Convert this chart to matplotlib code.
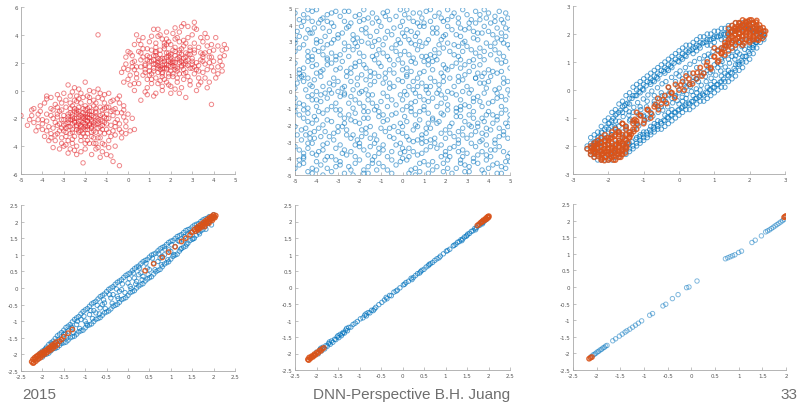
import numpy as np
import matplotlib
matplotlib.use("Agg")
import matplotlib.pyplot as plt

# ---------------- data ----------------
# Panel 1: two red clusters (values in tenths)
red_low = np.array([
(-20,-21),(-22,-18),(-18,-24),(-25,-20),(-15,-19),(-21,-27),(-28,-23),(-17,-15),(-23,-12),(-12,-22),
(-30,-18),(-19,-31),(-26,-28),(-14,-27),(-24,-16),(-10,-17),(-33,-25),(-16,-11),(-21,-5),(-27,-9),
(-35,-14),(-8,-25),(-13,-34),(-29,-33),(-38,-22),(-20,-38),(-11,-9),(-32,-6),(-6,-13),(-40,-28),
(-24,-40),(-15,-42),(-9,-36),(-42,-17),(-25,2),(-18,0),(-31,-38),(-5,-21),(-44,-23),(-36,-31),
(-22,-33),(-26,-24),(-19,-17),(-17,-26),(-23,-22),(-14,-20),(-27,-16),(-12,-14),(-31,-21),(-20,-14),
(-16,-23),(-24,-26),(-28,-19),(-13,-26),(-21,-23),(-18,-20),(-25,-13),(-10,-24),(-29,-27),(-15,-30),
(-22,-9),(-33,-17),(-7,-18),(-19,-36),(-34,-10),(-26,-35),(-11,-31),(-37,-26),(-3,-16),(-14,-5),
(-28,4),(-20,6),(-16,-1),(-30,-2),(-8,-8),(-4,-28),(-1,-22),(-2,-11),(-6,-32),(-12,-44),
(-17,-46),(-22,-44),(-27,-42),(-34,-36),(-39,-33),(-45,-18),(-47,-25),(-50,-18),(-41,-11),(-38,-6),
(-36,-5),(-33,-3),(-24,-4),(-9,-2),(-5,-6),(-1,-26),(2,-20),(-3,-34),(-9,-41),(-13,-48),
(-8,-47),(-10,-46),(-7,-51),(-21,-52),(-4,-54),(-26,-38),(-30,-29),(-35,-20),(-19,-26),(-23,-30),
(-17,-33),(-11,-19),(-13,-12),(-24,-20),(-20,-28),(-26,-17),(-15,-15),(-22,-25),(-18,-12),(-29,-12),
(-32,-24),(-9,-30),(-6,-23),(-27,-31),(-36,-18),(-31,-14),(-12,-38),(-16,-7),(-25,-7),(-19,-4),
(-40,-21),(-43,-29),(-37,-36),(-41,-15),(-23,1),(-14,1),(-11,-3),(-2,-19),(1,-29),(3,-28),
(-4,-9),(-6,-40),(-15,-38),(-29,-39),(-32,-42),(-20,-42),(-24,-46),(-35,-41),(-28,-45),(-38,-4),
(-44,-13),(-46,-21),(-30,-25),(-21,-19),(-17,-18),(-25,-23),(-19,-22),(-23,-15),(-14,-24),(-27,-21),
(-16,-29),(-12,-28),(-20,-17),(-28,-26),(-22,-29),(-18,-8),(-10,-12),(-7,-14),(-33,-31),(-31,-34),
(-21,-20),(-19,-22),(-23,-19),(-17,-21),(-25,-22),(-20,-24),(-18,-17),(-22,-26),(-26,-19),(-16,-25),
(-24,-14),(-13,-18),(-27,-26),(-20,-11),(-11,-23),(-30,-21),(-15,-13),(-23,-29),(-9,-20),(-32,-15),
(-17,-30),(-26,-11),(-12,-17),(-29,-30),(-20,-33),(-8,-15),(-34,-23),(-14,-34),(-24,-8),(-6,-26),
(-36,-13),(-18,-38),(-27,-4),(-10,-28),(-38,-29),(-22,-36),(-12,-6),(-31,-9),(-5,-16),(-40,-24),
(-19,-19),(-22,-22),(-24,-25),(-16,-19),(-20,-26),(-26,-21),(-18,-15),(-21,-13),(-14,-22),(-28,-17),
(-23,-24),(-17,-27),(-25,-15),(-12,-25),(-29,-24),(-19,-28),(-15,-16),(-27,-13),(-11,-13),(-31,-27),
(-21,-31),(-13,-30),(-33,-19),(-16,-34),(-25,-33),(-9,-12),(-35,-27),(-8,-33),(-28,-36),(-18,-5),
(-22,-2),(-26,-1),(-33,-12),(-38,-17),(-42,-21),(-4,-24),(-2,-14),(-7,-7),(-14,-41),(-25,-43),
(-30,-40),(-36,-34),(-42,-26),(-45,-14),(-39,-9),(-15,-9),(-13,-2),(0,-17),(-3,-30),(-11,-39),
(-17,-22),(-23,-17),(-20,-19),(-18,-25),(-24,-28),(-15,-24),(-28,-21),(-21,-16),(-13,-21),(-26,-30),
(-19,-13),(-10,-20),(-32,-29),(-16,-38),(-23,-6),(-29,-7),(-7,-29),(-1,-31),(-34,-32),(-4,-4)]) / 10.0

red_high = np.array([
(18,19),(15,22),(22,17),(12,16),(25,21),(19,25),(14,13),(28,18),(10,21),(21,29),
(16,10),(30,23),(8,15),(24,12),(13,27),(27,27),(20,14),(33,18),(6,22),(17,32),
(11,8),(35,24),(23,6),(4,17),(29,31),(9,30),(31,12),(37,15),(2,25),(19,35),
(26,36),(14,39),(38,28),(1,11),(5,5),(16,3),(33,4),(40,21),(42,17),(-1,19),
(3,33),(7,38),(12,44),(24,42),(30,40),(35,35),(44,29),(41,9),(39,-10),(27,-5),
(20,-2),(12,-4),(6,-7),(-2,6),(-3,13),(0,28),(4,40),(10,35),(22,45),(31,49),
(26,48),(36,41),(45,33),(43,24),(38,6),(32,0),(25,2),(18,6),(9,2),(3,0),
(-14,40),(21,21),(17,16),(24,24),(13,19),(19,12),(26,15),(15,26),(22,25),(11,12),
(28,22),(16,18),(20,20),(23,14),(14,23),(27,19),(18,27),(12,22),(25,17),(10,17),
(29,26),(21,10),(17,30),(32,20),(8,19),(24,29),(15,7),(34,27),(19,4),(7,11),
(36,19),(13,34),(28,10),(5,28),(31,34),(23,38),(9,25),(39,24),(2,20),(16,37),
(33,14),(26,32),(11,29),(37,32),(4,9),(20,33),(30,16),(14,5),(22,1),(40,14),
(42,32),(0,15),(-1,24),(6,33),(18,42),(28,46),(34,38),(44,18),(36,9),(29,4),
(13,-2),(8,-1),(1,4),(23,9),(17,23),(21,18),(19,21),(25,26),(15,15),(27,13),
(12,25),(24,20),(16,13),(20,24),(18,16),(22,28),(14,20),(26,23),(10,14),(30,19),
(13,31),(35,21),(9,8),(31,27),(7,24),(38,20),(3,15),(46,30),(41,38),(32,44),
(19,18),(17,21),(21,20),(15,17),(23,23),(18,15),(14,21),(25,18),(20,26),(12,19),
(27,24),(16,12),(22,31),(10,24),(29,16),(13,9),(31,29),(8,18),(26,8),(18,33),
(34,22),(6,27),(24,35),(11,5),(36,27),(3,21),(28,38),(15,40),(39,17),(20,3),
(17,19),(20,17),(16,23),(22,20),(14,16),(24,22),(19,27),(12,14),(26,19),(21,12),
(15,29),(28,26),(10,11),(23,16),(30,21),(13,25),(25,30),(17,8),(32,15),(9,22),
(18,37),(27,34),(7,30),(33,31),(35,13),(4,12),(29,7),(21,41),(38,24),(2,17),
(40,29),(1,27),(14,44),(25,46),(37,38),(43,21),(42,12),(34,6),(24,-2),(9,-3),
(0,8),(-2,16),(5,36),(11,39),(31,45),(39,33),(45,25),(44,14),(37,2),(16,0),
(20,22),(18,24),(16,16),(22,15),(24,27),(14,18),(19,10),(27,21),(11,21),(29,29),
(13,28),(31,17),(8,13),(26,12),(17,34),(35,26),(6,17),(22,37),(33,9),(3,5)]) / 10.0

# Panel 2: uniform blue points on [-5,5]^2 (tenths)
uniform_pts = np.array([
(-48,43),(-44,49),(-39,41),(-35,46),(-31,48),(-27,42),(-22,45),(-18,49),(-14,41),(-9,47),(-6,43),(-1,49),(3,44),(7,41),(11,48),(15,45),(19,42),(24,47),(28,49),(32,43),(36,46),(41,41),(45,48),(49,44),(-46,46),(-37,44),(-25,48),(-12,44),(0,42),(13,42),(26,44),(38,49),(47,41),(-42,42),(-20,42),(5,47),(21,49),(34,41),(43,45),(-33,41),
(-49,36),(-45,32),(-41,38),(-36,33),(-32,39),(-28,35),(-23,31),(-19,37),(-15,33),(-10,39),(-5,34),(-2,31),(2,37),(6,33),(10,39),(14,35),(18,31),(23,37),(27,33),(31,38),(35,31),(40,36),(44,32),(48,38),(-47,39),(-38,30),(-26,38),(-13,30),(-7,36),(8,30),(16,38),(29,30),(37,35),(46,35),(-43,35),(-30,32),(-17,35),(0,35),(20,34),(33,36),
(-50,24),(-46,28),(-42,21),(-37,26),(-33,29),(-29,22),(-25,27),(-20,23),(-16,29),(-11,25),(-7,21),(-3,28),(1,24),(5,20),(9,27),(13,22),(17,28),(22,24),(26,21),(30,27),(34,23),(39,29),(43,25),(47,21),(-44,24),(-35,20),(-22,29),(-9,28),(4,29),(15,25),(28,24),(41,22),(49,28),(-40,29),(-27,25),(-14,21),(-1,22),(11,21),(24,28),(36,26),
(-48,13),(-44,18),(-40,11),(-35,16),(-31,19),(-26,12),(-22,17),(-17,14),(-13,19),(-8,11),(-4,16),(0,13),(4,18),(8,11),(12,16),(16,19),(21,13),(25,17),(29,10),(33,15),(38,19),(42,12),(46,17),(50,14),(-46,10),(-37,13),(-28,18),(-19,10),(-10,15),(2,10),(14,13),(27,14),(35,11),(44,19),(-42,15),(-24,14),(-6,19),(10,18),(19,16),(31,18),
(-49,5),(-45,1),(-41,7),(-37,3),(-32,8),(-28,2),(-24,6),(-19,0),(-15,4),(-11,9),(-6,2),(-2,7),(3,3),(7,8),(11,1),(15,6),(19,9),(24,3),(28,7),(32,1),(36,5),(41,9),(45,2),(49,6),(-47,9),(-34,5),(-21,8),(-9,5),(1,0),(13,3),(26,9),(39,2),(47,8),(-43,4),(-30,0),(-17,7),(5,6),(17,1),(22,8),(34,8),
(-50,-4),(-46,-8),(-42,-2),(-38,-6),(-33,-9),(-29,-3),(-25,-7),(-20,-1),(-16,-5),(-12,-9),(-7,-3),(-3,-8),(2,-2),(6,-6),(10,-9),(14,-4),(18,-7),(23,-1),(27,-5),(31,-9),(35,-3),(40,-7),(44,-1),(48,-5),(-44,-10),(-36,-1),(-23,-10),(-10,-6),(0,-5),(12,-1),(25,-10),(37,-9),(46,-3),(-40,-5),(-27,-1),(-14,-2),(4,-10),(16,-1),(21,-8),(33,-6),
(-48,-14),(-44,-18),(-39,-12),(-35,-17),(-31,-11),(-27,-19),(-22,-13),(-18,-16),(-13,-11),(-9,-18),(-5,-14),(-1,-19),(4,-12),(8,-17),(12,-13),(16,-19),(21,-11),(25,-15),(29,-18),(33,-12),(37,-16),(42,-19),(46,-13),(50,-17),(-46,-11),(-37,-20),(-24,-17),(-11,-15),(1,-15),(14,-16),(27,-11),(39,-14),(48,-19),(-41,-15),(-29,-14),(-16,-12),(6,-20),(19,-14),(31,-20),(44,-15),
(-49,-26),(-45,-22),(-41,-28),(-36,-24),(-32,-29),(-28,-21),(-23,-26),(-19,-23),(-15,-28),(-10,-22),(-6,-27),(-2,-24),(3,-29),(7,-21),(11,-25),(15,-28),(20,-23),(24,-27),(28,-22),(32,-26),(37,-29),(41,-23),(45,-27),(49,-21),(-47,-29),(-38,-27),(-26,-23),(-12,-29),(0,-21),(13,-22),(26,-29),(35,-21),(47,-24),(-43,-25),(-30,-24),(-17,-25),(-4,-21),(9,-28),(22,-25),(39,-26),
(-50,-33),(-46,-37),(-42,-31),(-37,-35),(-33,-39),(-29,-32),(-24,-36),(-20,-31),(-16,-38),(-11,-34),(-7,-39),(-3,-32),(1,-36),(5,-30),(9,-37),(13,-33),(18,-39),(22,-34),(26,-31),(30,-37),(34,-33),(39,-38),(43,-31),(47,-36),(-44,-34),(-35,-31),(-22,-39),(-9,-35),(3,-39),(16,-34),(28,-35),(41,-35),(49,-39),(-40,-38),(-27,-35),(-13,-31),(-1,-37),(11,-30),(20,-36),(36,-30),
(-48,-44),(-44,-48),(-40,-42),(-35,-46),(-31,-41),(-27,-49),(-22,-43),(-18,-47),(-14,-41),(-9,-45),(-5,-49),(-1,-42),(4,-47),(8,-43),(12,-49),(16,-45),(21,-41),(25,-46),(29,-48),(33,-42),(37,-47),(42,-44),(46,-49),(50,-42),(-46,-40),(-37,-50),(-25,-45),(-12,-47),(0,-40),(14,-42),(27,-43),(39,-41),(48,-46),(-42,-46),(-29,-44),(-16,-49),(6,-50),(19,-48),(31,-45),(44,-43),
(-50,47),(-46,42),(-42,48),(-38,43),(-33,47),(-29,45),(-24,41),(-20,46),(-16,44),(-11,42),(-7,48),(-3,45),(1,46),(5,42),(9,44),(13,49),(17,47),(21,43),(26,41),(30,46),(34,48),(39,44),(43,42),(48,47),(-44,44),(-35,42),(-27,48),(-18,43),(-8,45),(2,49),(10,41),(18,44),(31,41),(40,47),(46,43),(-40,49),(-14,47),(8,47),(23,45),(36,43),
(-48,33),(-44,37),(-40,31),(-34,36),(-30,34),(-25,39),(-21,32),(-17,38),(-12,36),(-8,32),(-4,38),(1,33),(4,36),(8,39),(12,31),(16,35),(21,39),(25,34),(29,37),(33,32),(38,39),(42,34),(46,31),(50,37),(-50,31),(-42,35),(-32,31),(-23,34),(-11,31),(-1,39),(7,35),(19,33),(27,38),(35,35),(44,38),(-37,38),(-19,30),(3,31),(14,38),(48,33),
(-48,26),(-44,21),(-39,24),(-35,28),(-31,21),(-27,29),(-23,25),(-18,21),(-14,27),(-9,23),(-5,26),(-1,29),(3,22),(7,25),(11,29),(15,21),(19,26),(24,22),(28,29),(32,25),(36,21),(41,27),(45,23),(50,26),(-50,29),(-41,25),(-33,23),(-21,27),(-12,22),(-3,24),(6,28),(17,23),(26,27),(38,24),(47,29),(-37,22),(-25,21),(9,21),(21,29),(43,29),
(-50,17),(-46,14),(-42,19),(-38,12),(-33,17),(-29,14),(-24,11),(-20,18),(-15,12),(-11,17),(-6,13),(-2,19),(2,14),(6,17),(10,12),(14,18),(18,11),(23,15),(27,19),(31,12),(36,16),(40,13),(44,11),(48,18),(-48,11),(-40,16),(-31,13),(-22,15),(-13,11),(-4,11),(4,12),(12,19),(20,14),(29,16),(38,11),(46,12),(-35,19),(-18,16),(0,17),(33,19),
(-50,2),(-46,6),(-42,3),(-38,9),(-34,1),(-30,6),(-26,9),(-21,4),(-17,1),(-13,6),(-8,8),(-4,3),(0,6),(5,1),(9,5),(13,8),(17,4),(21,0),(26,6),(30,3),(34,8),(38,5),(43,1),(47,5),(-48,8),(-40,0),(-32,4),(-23,1),(-15,9),(-6,5),(2,9),(11,3),(19,6),(28,0),(37,9),(49,1),(-44,8),(-27,3),(7,3),(40,6),
(-48,-7),(-44,-3),(-40,-9),(-35,-4),(-31,-7),(-27,-2),(-22,-5),(-18,-9),(-14,-7),(-9,-1),(-5,-5),(-1,-2),(4,-7),(8,-3),(12,-6),(16,-9),(20,-4),(25,-2),(29,-8),(33,-4),(38,-1),(42,-6),(46,-9),(50,-2),(-50,-9),(-42,-5),(-33,-1),(-24,-3),(-16,-2),(-7,-9),(2,-9),(10,-5),(18,-2),(27,-9),(36,-6),(44,-4),(-38,-2),(-20,-7),(6,-1),(31,-1),
(-50,-12),(-46,-16),(-42,-19),(-37,-13),(-33,-18),(-29,-11),(-25,-14),(-20,-19),(-16,-16),(-11,-12),(-7,-17),(-3,-13),(2,-18),(6,-14),(10,-11),(14,-17),(18,-13),(23,-19),(27,-15),(31,-14),(35,-19),(40,-12),(44,-17),(48,-11),(-44,-13),(-35,-11),(-27,-16),(-18,-12),(-9,-14),(0,-11),(8,-12),(17,-18),(25,-12),(33,-16),(42,-14),(50,-14),(-40,-17),(-22,-18),(12,-19),(38,-18),
(-47,-23),(-43,-28),(-39,-22),(-34,-27),(-30,-21),(-26,-26),(-21,-29),(-17,-22),(-13,-26),(-8,-24),(-4,-28),(0,-25),(5,-23),(9,-26),(13,-29),(18,-25),(22,-21),(26,-24),(30,-28),(34,-24),(39,-22),(43,-29),(47,-26),(-50,-21),(-41,-24),(-32,-25),(-24,-28),(-15,-21),(-6,-22),(2,-27),(11,-22),(20,-28),(28,-26),(37,-25),(45,-22),(49,-28),(-45,-26),(-19,-27),(7,-29),(32,-21),
(-48,-35),(-44,-31),(-39,-36),(-35,-39),(-31,-34),(-26,-38),(-22,-32),(-18,-35),(-13,-39),(-9,-32),(-5,-36),(-1,-31),(3,-34),(7,-38),(11,-35),(15,-31),(20,-38),(24,-33),(28,-39),(32,-31),(37,-36),(41,-39),(45,-33),(50,-37),(-46,-39),(-37,-32),(-28,-37),(-20,-33),(-11,-37),(0,-34),(9,-31),(18,-32),(26,-36),(35,-38),(43,-35),(-42,-37),(-15,-33),(5,-36),(22,-39),(39,-32),
(-50,-46),(-46,-43),(-42,-49),(-38,-44),(-33,-48),(-29,-42),(-24,-47),(-20,-41),(-16,-45),(-11,-43),(-7,-47),(-3,-44),(2,-41),(6,-46),(10,-42),(14,-47),(19,-43),(23,-49),(27,-41),(31,-48),(35,-43),(40,-46),(44,-49),(48,-42),(-48,-41),(-40,-47),(-31,-45),(-23,-50),(-14,-43),(-5,-41),(3,-49),(12,-44),(21,-46),(29,-44),(38,-49),(46,-45),(-36,-41),(-18,-49),(8,-48),(33,-40)]) / 10.0

# Panel 3: blue ellipse-shaped cloud (tenths + hundredths) and orange clusters
p3_blue_a = np.array([
(-26,-21),(-25,-19),(-25,-17),(-24,-16),(-24,-19),(-23,-15),(-23,-17),(-22,-13),(-22,-15),(-21,-11),(-21,-14),(-20,-10),(-20,-12),(-19,-8),(-19,-11),(-18,-7),(-18,-9),(-17,-5),(-17,-8),(-16,-4),(-16,-6),(-15,-2),(-15,-5),(-14,-1),(-14,-3),(-13,1),(-13,-2),(-12,2),(-12,0),(-11,3),(-11,1),(-10,4),(-10,2),(-9,5),(-9,3),(-8,6),(-8,4),(-7,7),(-7,5),(-6,8),(-6,6),(-5,9),(-5,7),(-4,10),(-4,8),(-3,11),(-3,9),(-2,12),(-2,10),(-1,13),(-1,11),(0,14),(0,12),(1,15),(1,13),(2,16),(2,14),(3,16),(3,14),(4,17),(4,15),(5,18),(5,16),(6,19),(6,17),(7,19),(7,17),(8,20),(8,18),(9,20),(9,18),(10,21),(10,19),(11,21),(11,19),(12,22),(12,20),(13,22),(13,20),(14,23),(14,21),(15,23),(15,21),(16,24),(16,22),(17,24),(17,22),(18,24),(19,24),(20,24),(21,24),(22,23),(23,22),(24,21),(24,19),(23,20),(22,21),(21,22),
(-25,-23),(-24,-24),(-23,-25),(-22,-25),(-21,-25),(-20,-25),(-19,-25),(-18,-24),(-17,-24),(-16,-23),(-15,-22),(-15,-23),(-14,-22),(-14,-21),(-13,-21),(-13,-20),(-12,-20),(-12,-19),(-11,-19),(-11,-18),(-10,-18),(-10,-17),(-9,-17),(-9,-16),(-8,-16),(-8,-15),(-7,-15),(-7,-14),(-6,-14),(-6,-13),(-5,-14),(-5,-12),(-4,-13),(-4,-11),(-3,-12),(-3,-10),(-2,-11),(-2,-9),(-1,-10),(-1,-8),(0,-9),(0,-7),(1,-8),(1,-6),(2,-7),(2,-5),(3,-7),(3,-5),(4,-6),(4,-4),(5,-5),(5,-3),(6,-4),(6,-2),(7,-4),(7,-2),(8,-3),(8,-1),(9,-2),(9,0),(10,-1),(10,1),(11,0),(11,2),(12,1),(12,3),(13,1),(13,3),(14,3),(14,5),(15,4),(15,6),(16,5),(16,7),(17,7),(17,9),(18,8),(18,10),(19,10),(19,12),(20,11),(20,13),(21,13),(21,15),(22,15),(22,17),(23,17),(23,19),(24,20),(24,18),
(-24,-21),(-22,-17),(-20,-14),(-18,-11),(-16,-8),(-14,-5),(-12,-2),(-10,0),(-8,2),(-6,4),(-4,6),(-2,8),(0,10),(2,12),(4,13),(6,15),(8,16),(10,17),(12,18),(14,19),(16,20),(18,21),(20,22),(22,20),
(-23,-19),(-19,-13),(-15,-7),(-11,-1),(-7,3),(-3,7),(1,11),(5,14),(9,16),(13,18),(17,20),(21,21),
(-24,-20),(-22,-22),(-20,-21),(-18,-21),(-16,-20),(-14,-19),(-12,-17),(-10,-15),(-8,-13),(-6,-11),(-4,-9),(-2,-7),(0,-5),(2,-3),(4,-2),(6,0),(8,1),(10,3),(12,5),(14,7),(16,9),(18,12),(20,15),(22,18),
(-23,-21),(-19,-22),(-15,-19),(-11,-16),(-7,-12),(-3,-8),(1,-4),(5,-1),(9,2),(13,6),(17,10),(21,16),
(-21,-18),(-19,-16),(-17,-13),(-16,-15),(-14,-11),(-13,-8),(-12,-12),(-11,-6),(-10,-9),(-9,-4),(-8,-8),(-7,-2),(-6,-6),(-5,-1),(-4,-4),(-3,1),(-2,-3),(-1,3),(0,-1),(1,4),(2,1),(3,6),(4,3),(5,8),(6,5),(7,10),(8,7),(9,12),(10,9),(11,14),(12,11),(13,15),(14,13),(15,17),(16,15),(17,17),(18,16),(19,19),(-15,-13),(-9,-10),(-5,-6),(-1,-2),(3,2),(7,6),(11,8),(15,12),(-3,-2),(2,6),(8,11),(-7,-5),(0,5),(5,4),
(-25,-22),(-26,-20),(-24,-23),(23,21),(24,20),(22,22),(19,23),(20,21)]) / 10.0

p3_blue_b = np.array([
(-244,-197),(-236,-185),(-227,-167),(-218,-153),(-206,-133),(-197,-118),(-186,-101),(-176,-86),(-165,-72),(-154,-56),(-145,-47),(-133,-30),(-124,-20),(-113,-6),(-103,3),(-93,15),(-82,28),(-74,34),(-63,46),(-54,55),(-43,67),(-34,75),(-23,85),(-14,96),(-3,103),(6,115),(17,124),(26,135),(37,143),(46,152),(57,158),(66,166),(77,171),(86,179),(97,184),(106,190),(117,193),(126,199),(137,203),(146,209),(157,212),(166,216),(177,219),(186,221),(197,219),(206,214),(217,209),(226,202),(235,192),
(-238,-210),(-225,-190),(-211,-172),(-199,-150),(-183,-128),(-169,-112),(-158,-95),(-141,-78),(-128,-62),(-117,-45),(-101,-32),(-88,-18),(-77,-4),(-61,8),(-48,22),(-37,30),(-21,45),(-8,58),(3,68),(18,80),(31,92),(44,102),(58,112),(72,122),(83,128),(96,138),(109,144),(122,150),(134,158),(148,165),(161,170),(174,176),(188,180),(203,178),(218,170),
(-247,-206),(-238,-218),(-228,-225),(-217,-228),(-204,-230),(-193,-229),(-183,-225),(-173,-219),(-162,-212),(-152,-205),(-143,-194),(-133,-185),(-122,-176),(-112,-167),(-102,-159),(-92,-150),(-83,-142),(-72,-132),(-62,-124),(-52,-114),(-43,-108),(-33,-97),(-23,-90),(-13,-79),(-3,-72),(7,-64),(17,-57),(27,-47),(36,-41),(46,-31),(57,-25),(67,-15),(76,-8),(87,2),(96,9),(107,19),(116,28),(126,39),(137,53),(146,62),(156,77),(167,92),(176,106),(187,120),(196,137),(207,152),(216,170),(226,188),
(-240,-185),(-226,-195),(-212,-200),(-197,-197),(-181,-190),(-168,-180),(-155,-168),(-139,-152),(-126,-140),(-114,-128),(-99,-115),(-86,-104),(-74,-93),(-59,-80),(-46,-72),(-32,-60),(-18,-46),(-5,-38),(9,-26),(22,-16),(35,-5),(49,4),(63,17),(77,30),(91,42),(104,53),(118,68),(131,82),(143,96),(158,110),(172,128),(186,145),(199,160),(212,176),
(-205,-170),(-190,-160),(-175,-148),(-160,-120),(-150,-135),(-138,-105),(-125,-115),(-115,-88),(-100,-95),(-92,-60),(-85,-75),(-70,-40),(-60,-58),(-48,-20),(-38,-40),(-25,-5),(-12,-22),(-4,12),(12,-5),(20,28),(32,12),(42,45),(55,30),(62,62),(75,48),(83,80),(95,68),(108,100),(118,90),(128,120),(140,110),(152,140),(165,135),(178,155),(-180,-135),(-142,-90),(-108,-70),(-55,-32),(-30,-15),(15,18),(48,40),(88,62),(122,102),(160,122)]) / 100.0

p3_orange_a = np.array([
(-22,-25),(-20,-25),(-18,-25),
(-24,-24),(-22,-24),(-21,-24),(-19,-24),(-17,-24),
(-25,-23),(-23,-23),(-22,-23),(-20,-23),(-19,-23),(-17,-23),(-16,-23),
(-25,-22),(-24,-22),(-22,-22),(-21,-22),(-20,-22),(-18,-22),(-17,-22),(-16,-22),
(-26,-21),(-24,-21),(-23,-21),(-21,-21),(-20,-21),(-19,-21),(-18,-21),(-16,-21),(-15,-21),
(-25,-20),(-24,-20),(-22,-20),(-21,-20),(-19,-20),(-18,-20),(-17,-20),(-15,-20),
(-24,-19),(-23,-19),(-22,-19),(-20,-19),(-19,-19),(-17,-19),(-16,-19),
(-23,-18),(-21,-18),(-20,-18),(-18,-18),(-17,-18),(-15,-18),
(-22,-17),(-20,-17),(-19,-17),(-16,-17),(-14,-17),
(-21,-16),(-18,-16),(-16,-16),(-15,-16),
(-19,-15),(-17,-15),(-14,-15),
(-18,-14),(-15,-14),(-13,-14),
(-16,-12),(-13,-12),(-12,-11),
(18,25),(20,25),
(16,24),(17,24),(19,24),(21,24),
(15,23),(17,23),(18,23),(20,23),(22,23),
(14,22),(16,22),(17,22),(19,22),(20,22),(22,22),(23,22),
(15,21),(16,21),(18,21),(19,21),(21,21),(22,21),(24,21),
(14,20),(16,20),(17,20),(19,20),(20,20),(22,20),(23,20),
(15,19),(17,19),(18,19),(20,19),(21,19),(23,19),
(14,18),(16,18),(18,18),(19,18),(21,18),(22,18),
(13,17),(15,17),(17,17),(20,17),
(14,16),(16,16),(18,16),
(12,15),(15,15),(11,14),(14,14),(12,13),
(-15,-13),(-13,-11),(-12,-14),(-11,-9),(-10,-12),(-9,-7),(-8,-10),(-7,-6),(-6,-3),(-5,-5),(-4,-2),(-3,1),(-2,-1),(-1,2),(0,0),(1,3),(2,5),(3,2),(4,6),(5,4),(6,8),(7,6),(8,10),(9,8),(10,12),(11,10),(12,13),(13,16),(10,15),(-14,-16),(-16,-12),(-17,-15),(-12,-8)]) / 10.0

p3_orange_b = np.array([
(-245,-215),(-238,-228),(-232,-205),(-228,-237),(-226,-218),(-218,-246),(-215,-228),(-213,-209),(-207,-238),(-204,-219),(-201,-196),(-196,-245),(-193,-227),(-190,-207),(-186,-236),(-183,-215),(-178,-195),(-175,-228),(-171,-206),(-166,-186),(-163,-217),(-158,-197),(-153,-176),(-148,-205),(-145,-188),(-140,-168),(-135,-158),(-128,-148),(-248,-208),(-235,-195),(-222,-188),(-208,-182),(-195,-172),(-182,-165),(-170,-158),(-240,-222),(-211,-252),(-185,-250),(-165,-240),(-152,-225),
(245,210),(238,222),(232,202),(228,232),(226,213),(218,242),(215,224),(213,205),(207,236),(204,216),(201,196),(196,245),(193,226),(190,206),(186,234),(183,214),(178,193),(175,226),(171,204),(166,186),(163,215),(158,196),(153,176),(148,205),(144,186),(139,168),(133,158),(126,147),(242,196),(236,185),(225,178),(212,185),(198,176),(184,168),(170,170),(220,248),(205,250),(188,245),(172,238),(156,222),
(-125,-105),(-118,-122),(-108,-92),(-98,-108),(-88,-70),(-78,-85),(-66,-52),(-58,-70),(-45,-35),(-35,-48),(-22,-10),(-12,-28),(5,18),(15,0),(28,40),(38,22),(52,62),(65,50),(78,88),(90,75),(100,118),(112,105),(122,135),(130,125)]) / 100.0

# Panel 4: narrow band (hundredths)
p4_blue = np.array([
(-210,-204),(-200,-190),(-190,-178),(-180,-165),(-170,-152),(-160,-139),(-150,-127),(-140,-115),(-130,-102),(-120,-90),(-110,-78),(-100,-66),(-90,-55),(-80,-44),(-70,-33),(-60,-22),(-50,-11),(-40,0),(-30,11),(-20,21),(-10,32),(0,42),(10,52),(20,63),(30,73),(40,83),(50,93),(60,102),(70,112),(80,122),(90,131),(100,141),(110,149),(120,158),(130,167),(140,176),(150,184),(160,192),(170,200),(180,208),(190,215),(200,221),
(-195,-187),(-185,-170),(-175,-160),(-165,-144),(-155,-134),(-145,-119),(-135,-110),(-125,-95),(-115,-86),(-105,-71),(-95,-62),(-85,-48),(-75,-40),(-65,-26),(-55,-18),(-45,-4),(-35,4),(-25,17),(-15,25),(-5,38),(5,45),(15,58),(25,66),(35,79),(45,86),(55,99),(65,105),(75,118),(85,125),(95,137),(105,143),(115,155),(125,161),(135,173),(145,178),(155,189),(165,194),(175,205),(185,210),
(-210,-214),(-200,-208),(-190,-199),(-180,-189),(-170,-182),(-160,-173),(-150,-165),(-140,-157),(-130,-147),(-120,-139),(-110,-129),(-100,-120),(-90,-111),(-80,-101),(-70,-92),(-60,-82),(-50,-72),(-40,-63),(-30,-52),(-20,-43),(-10,-32),(0,-22),(10,-11),(20,0),(30,10),(40,21),(50,31),(60,42),(70,53),(80,64),(90,76),(100,87),(110,99),(120,111),(130,123),(140,135),(150,147),(160,159),(170,172),(180,185),(190,199),(200,212),
(-195,-201),(-185,-196),(-175,-183),(-165,-179),(-155,-167),(-145,-163),(-135,-150),(-125,-145),(-115,-132),(-105,-127),(-95,-113),(-85,-108),(-75,-94),(-65,-89),(-55,-75),(-45,-69),(-35,-55),(-25,-49),(-15,-35),(-5,-29),(5,-14),(15,-8),(25,6),(35,13),(45,27),(55,34),(65,49),(75,56),(85,72),(95,79),(105,95),(115,102),(125,119),(135,126),(145,143),(155,150),(165,168),(175,176),(185,194),
(-150,-140),(-130,-120),(-120,-110),(-110,-95),(-100,-100),(-90,-80),(-80,-68),(-75,-75),(-60,-50),(-55,-45),(-40,-30),(-35,-20),(-20,-10),(-15,-5),(0,15),(5,5),(15,30),(20,20),(30,45),(35,35),(45,60),(50,55),(60,75),(70,80),(80,95),(85,100),(95,115),(100,110),(110,125),(120,140),(130,145),(140,160),(-170,-165),(-140,-130),(-65,-60),(-25,-25),(25,40),(75,90),
(-205,-196),(-198,-200),(-193,-183),(-183,-187),(-178,-168),(-172,-175),(-163,-155),(-157,-162),(-147,-136),(-143,-150),(-133,-118),(-127,-135),(-118,-100),(-113,-122),(-103,-85),(-97,-108),(-87,-68),(-83,-92),(-72,-52),(-67,-78),(-57,-36),(-53,-62),(-43,-20),(-37,-46),(-27,-3),(-23,-32),(-13,12),(-7,-14),(3,28),(7,-2),(13,45),(18,12),(27,60),(33,25),(42,75),(47,40),(57,90),(63,55),(72,103),(78,70),(86,117),(93,85),(102,130),(107,100),(117,143),(123,117),(132,155),(137,132),(147,168),(152,148),(162,182),(167,163),(176,195),(182,177),(191,208),(195,190)]) / 100.0

p4_orange = np.array([
(-225,-222),(-222,-215),(-220,-225),(-218,-210),(-215,-220),(-212,-205),(-210,-214),(-208,-200),(-205,-210),(-203,-196),(-200,-204),(-198,-192),(-195,-199),(-192,-188),(-190,-195),(-187,-183),(-185,-190),(-182,-178),(-180,-186),(-177,-172),(-175,-181),(-172,-168),(-170,-176),(-168,-163),(-165,-171),(-160,-160),(-155,-155),(-150,-147),(-140,-136),(-130,-125),(-222,-226),(-216,-214),(-206,-205),(-196,-194),(-186,-184),(-176,-175),(-214,-206),(-201,-198),
(205,218),(203,212),(200,220),(198,210),(196,216),(193,205),(191,212),(188,200),(186,207),(183,195),(181,202),(178,190),(176,197),(173,185),(171,192),(168,180),(166,187),(163,175),(161,182),(158,171),(155,176),(150,168),(145,160),(135,150),(125,140),(201,215),(194,209),(184,199),(174,189),(164,179),(197,204),(189,195),(179,185),(110,124),(95,108),(80,92),(60,73),(40,52)]) / 100.0

# Panel 5: almost a line (hundredths)
p5_blue = np.array([
(-205,-205),(-200,-196),(-196,-201),(-192,-188),(-188,-192),(-185,-181),(-181,-186),(-178,-176),(-175,-178),(-172,-170),(-168,-172),(-165,-162),(-162,-166),(-158,-157),(-155,-158),(-152,-150),(-148,-152),(-145,-142),(-142,-146),(-138,-136),(-135,-138),(-132,-129),(-128,-131),(-125,-121),(-120,-120),(-115,-112),(-105,-103),(-98,-95),(-92,-92),(-88,-84),(-84,-86),(-80,-76),(-76,-77),(-72,-69),(-68,-70),(-62,-60),(-55,-52),(-48,-45),(-42,-38),(-36,-34),(-30,-24),(-26,-25),(-20,-14),(-12,-8),(-6,-1),(2,8),(8,15),(14,19),(20,28),(25,30),(30,36),(35,42),(40,44),(45,52),(50,55),(55,62),(60,66),(65,72),(70,76),(75,82),(80,87),(88,95),(95,102),(102,110),(110,116),(118,126),(124,131),(128,137),(132,139),(136,145),(140,147),(144,153),(148,155),(152,162),(156,164),(160,170),(164,172),(168,179),(172,181),(176,187),(180,189),(184,195),(188,198),(192,203),(196,207),
(-190,-184),(-170,-165),(-150,-146),(-140,-140),(-130,-124),(-110,-108),(-85,-80),(-65,-65),(-38,-30),(-15,-11),(5,10),(22,24),(42,48),(62,70),(85,90),(105,112),(120,128),(138,142),(150,158),(170,175),(186,193)]) / 100.0

p5_orange = np.array([
(-220,-218),(-217,-212),(-214,-215),(-211,-208),(-208,-210),(-205,-202),(-202,-204),(-199,-197),(-196,-198),(-193,-191),(-190,-192),(-187,-186),(-183,-183),(-218,-220),(-212,-211),(-206,-206),
(200,212),(198,214),(196,208),(194,210),(191,204),(188,204),(185,199),(182,197),(178,192),(174,188),(199,215),(193,206),(186,200),(201,216)]) / 100.0

# Panel 6: sparse line (hundredths)
p6_blue = np.array([
(-212,-210),(-208,-205),(-205,-203),(-202,-200),(-199,-196),(-196,-194),(-193,-190),(-190,-188),(-187,-184),(-184,-182),(-181,-178),(-178,-176),(-166,-162),(-160,-156),(-152,-148),(-146,-142),(-140,-136),(-136,-132),(-130,-127),(-124,-121),(-118,-115),(-112,-109),(-105,-102),(-88,-85),(-82,-80),(-60,-57),(-54,-52),(-40,-35),(-28,-23),(-10,-2),(-5,0),(12,18),(72,85),(77,88),(82,91),(87,94),(92,97),(100,104),(106,108),(128,134),(135,141),(148,154),(157,166),(161,169),(165,172),(169,176),(173,180),(177,184),(181,188),(185,192),(189,196),(193,200),(196,204)]) / 100.0

p6_orange = np.array([(-216,-216),(-213,-213),(-210,-211),(198,212),(200,214),(196,210)]) / 100.0

# axis settings
x_ticks = [np.arange(-5, 6, 1), np.arange(-5, 6, 1), np.arange(-3, 4, 1),
           np.arange(-2.5, 2.51, 0.5), np.arange(-2.5, 2.51, 0.5), np.arange(-2.5, 2.01, 0.5)]
y_ticks = [np.arange(-6, 7, 2), np.arange(-5, 6, 1), np.arange(-3, 4, 1),
           np.arange(-2.5, 2.51, 0.5), np.arange(-2.5, 2.51, 0.5), np.arange(-2.5, 2.51, 0.5)]
x_lims = [(-5, 5), (-5, 5), (-3, 3), (-2.5, 2.5), (-2.5, 2.5), (-2.5, 2)]
y_lims = [(-6, 6), (-5, 5), (-3, 3), (-2.5, 2.5), (-2.5, 2.5), (-2.5, 2.5)]

footer_left = "2015"
footer_mid = "DNN-Perspective B.H. Juang"
footer_right = "33"

# ---------------- drawing ----------------
W, H = 801, 406
fig = plt.figure(figsize=(W / 100, H / 100), dpi=100)
fig.patch.set_facecolor("white")

boxes_px = [(21, 235, 8, 175), (295, 510, 9, 176), (573, 785, 7, 175),
            (21, 235, 206, 372), (295, 510, 206, 371), (573, 786, 205, 371)]
axes = []
for (l, r, t, b) in boxes_px:
    ax = fig.add_axes([l / W, 1 - b / H, (r - l) / W, (b - t) / H])
    axes.append(ax)

RED = "#e3262b"
BLUE = "#0072BD"
ORANGE = "#D95319"
S = 10

def circ(ax, pts, color, alpha, lw=0.7, s=S):
    ax.scatter(pts[:, 0], pts[:, 1], s=s, facecolors="none", edgecolors=color,
               linewidths=lw, alpha=alpha, zorder=3)

circ(axes[0], red_low, RED, 0.55)
circ(axes[0], red_high, RED, 0.55)
circ(axes[1], uniform_pts, BLUE, 0.55)
circ(axes[2], p3_blue_a, BLUE, 0.65)
circ(axes[2], p3_blue_b, BLUE, 0.65)
circ(axes[2], p3_orange_a, ORANGE, 0.85, lw=1.1)
circ(axes[2], p3_orange_b, ORANGE, 0.85, lw=1.1)
circ(axes[3], p4_blue, BLUE, 0.65)
circ(axes[3], p4_orange, ORANGE, 0.9, lw=1.0)
circ(axes[4], p5_blue, BLUE, 0.65)
circ(axes[4], p5_orange, ORANGE, 0.9, lw=1.0)
circ(axes[5], p6_blue, BLUE, 0.5)
circ(axes[5], p6_orange, ORANGE, 0.9, lw=1.0)

for i, ax in enumerate(axes):
    ax.set_xlim(*x_lims[i])
    ax.set_ylim(*y_lims[i])
    ax.set_xticks(x_ticks[i])
    ax.set_yticks(y_ticks[i])
    ax.set_xticklabels([("%g" % v) for v in x_ticks[i]])
    ax.set_yticklabels([("%g" % v) for v in y_ticks[i]])
    for sp in ("top", "right"):
        ax.spines[sp].set_visible(False)
    for sp in ("left", "bottom"):
        ax.spines[sp].set_color("#a8a8a8")
        ax.spines[sp].set_linewidth(0.6)
    ax.tick_params(direction="in", length=2, width=0.5, color="#a8a8a8",
                   labelsize=4, labelcolor="#555555", pad=2)
    ax.set_facecolor("white")

fam = ["Liberation Sans Narrow", "Liberation Sans", "DejaVu Sans"]
fig.text(22 / W, 1 - 395 / H, footer_left, ha="left", va="center", fontsize=11,
         color="#6e6e6e", family=fam)
fig.text(412 / W, 1 - 395 / H, footer_mid, ha="center", va="center", fontsize=11,
         color="#6e6e6e", family=fam)
fig.text(797 / W, 1 - 395 / H, footer_right, ha="right", va="center", fontsize=11,
         color="#6e6e6e", family=fam)

fig.savefig("out.png", dpi=100, facecolor="white")
